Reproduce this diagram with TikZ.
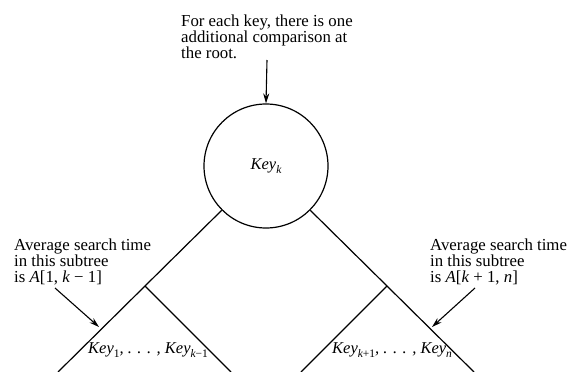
\documentclass[tikz,border=0pt]{standalone}
\usepackage{fontspec}
\setmainfont{Liberation Serif}
\usetikzlibrary{arrows.meta}
\newcommand{\sbk}[1]{\raisebox{-4.5pt}{\fontsize{11.5}{11.5}\selectfont #1}}
\begin{document}
\begin{tikzpicture}[x=1pt,y=-1pt,
  lbl/.style={font=\fontsize{16.8}{16}\selectfont, align=left, inner sep=0pt, anchor=north west},
  keytxt/.style={font=\fontsize{16.5}{16}\selectfont\itshape, inner sep=0pt},
  edge/.style={line width=1.2pt},
  ptr/.style={line width=1.1pt, -{Stealth[length=10pt,width=6pt]}}]
\useasboundingbox[fill=white] (0,0) rectangle (568,372);
% root
\node[circle, draw, line width=1.2pt, minimum size=124pt, inner sep=0pt] (root) at (266,166) {};
\node[keytxt, anchor=base] (rk) at (266,169) {Key\sbk{k}};
% top note
\node[lbl] (topnote) at (181,14.5) {For each key, there is one\\additional comparison at\\the root.};
\coordinate (ta) at (267,60);
\draw[ptr] (ta) -- (root.north);
% branches
\coordinate (lapex) at (145,286);
\coordinate (lend) at (58,372);
\coordinate (lsub) at (231,372);
\coordinate (rapex) at (387,286);
\coordinate (rend) at (474,372);
\coordinate (rsub) at (301,372);
\draw[edge] (root.225) -- (lapex) -- (lend);
\draw[edge] (lapex) -- (lsub);
\draw[edge] (root.315) -- (rapex) -- (rend);
\draw[edge] (rapex) -- (rsub);
% subtree labels
\node[keytxt, anchor=base west] (lkeys) at (88,353) {Key\sbk{\upshape 1}, . . . , Key\sbk{k\upshape −1}};
\node[keytxt, anchor=base west] (rkeys) at (332,353) {Key\sbk{k\upshape +1}, . . . , Key\sbk{n}};
% side notes
\node[lbl] (lnote) at (14,239) {Average search time\\in this subtree\\is \textit{A}[1, \textit{k} − 1]};
\node[lbl] (rnote) at (430,239) {Average search time\\in this subtree\\is \textit{A}[\textit{k} + 1, \textit{n}]};
\coordinate (la) at (55,288);
\coordinate (lt) at (99,327);
\coordinate (ra) at (475,288);
\coordinate (rt) at (432,327);
\draw[ptr] (la) -- (lt);
\draw[ptr] (ra) -- (rt);
\end{tikzpicture}
\end{document}
